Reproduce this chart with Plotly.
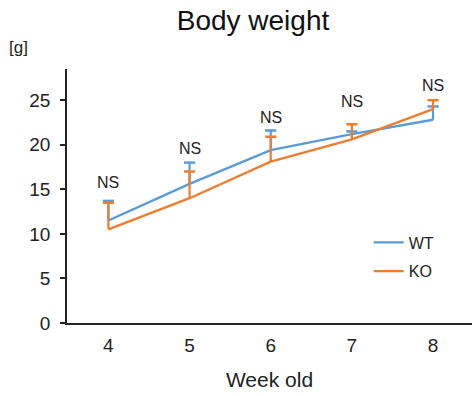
import plotly.graph_objects as go

weeks = [4, 5, 6, 7, 8]
wt_mean = [11.5, 15.6, 19.4, 21.2, 22.8]
wt_err = [2.2, 2.4, 2.2, 0.3, 1.5]
ko_mean = [10.5, 14.0, 18.1, 20.6, 24.0]
ko_err = [3.0, 3.0, 2.8, 1.7, 1.0]
sig_labels = ["NS", "NS", "NS", "NS", "NS"]
sig_y = [15.8, 19.6, 23.1, 24.9, 26.6]

WT_COLOR = "#5B9BD5"
KO_COLOR = "#ED7D31"
FONT = "Liberation Sans, Arial, sans-serif"

fig = go.Figure()
for name, mean, err, color in [("WT", wt_mean, wt_err, WT_COLOR),
                               ("KO", ko_mean, ko_err, KO_COLOR)]:
    # upper-only error bars: stem from the mean to mean + err, cap on top
    stem_x, stem_y = [], []
    for x, m, e in zip(weeks, mean, err):
        stem_x += [x, x, None]
        stem_y += [m, m + e, None]
    fig.add_trace(go.Scatter(
        x=stem_x, y=stem_y, mode="lines", showlegend=False, hoverinfo="skip",
        legendgroup=name, line=dict(color=color, width=2.2),
    ))
    fig.add_trace(go.Scatter(
        x=weeks, y=[m + e for m, e in zip(mean, err)], mode="markers",
        showlegend=False, hoverinfo="skip", legendgroup=name,
        marker=dict(symbol="line-ew", size=8, line=dict(color=color, width=2.5)),
    ))
    fig.add_trace(go.Scatter(
        x=weeks, y=mean, name=name, mode="lines", legendgroup=name,
        line=dict(color=color, width=2.4),
    ))

for x, y, t in zip(weeks, sig_y, sig_labels):
    fig.add_annotation(x=x, y=y, text=t, showarrow=False,
                       font=dict(size=16, color="#222222", family=FONT),
                       xanchor="center", yanchor="middle")

fig.add_annotation(xref="paper", yref="paper", x=-0.148, y=1.083, text="[g]",
                   showarrow=False, xanchor="left", yanchor="middle",
                   font=dict(size=17, color="#222222", family=FONT))

fig.update_layout(
    width=472, height=396,
    margin=dict(l=67, r=0, t=69, b=73),
    paper_bgcolor="white", plot_bgcolor="white",
    font=dict(family=FONT, color="#222222"),
    title=dict(text="Body weight", x=0.536, xanchor="center", y=0.95,
               yanchor="middle", font=dict(size=28, color="#111111", family=FONT)),
    showlegend=True,
    legend=dict(x=0.745, y=0.26, xanchor="left", yanchor="middle",
                bgcolor="rgba(0,0,0,0)", font=dict(size=16, family=FONT),
                tracegroupgap=5, traceorder="grouped"),
    xaxis=dict(range=[3.49, 8.48], tickvals=weeks, ticks="", showline=True,
               linecolor="#222222", linewidth=1.5, showgrid=False, zeroline=False,
               tickfont=dict(size=19, family=FONT, color="#222222"),
               ticklabelstandoff=4,
               title=dict(text="Week old", font=dict(size=21, family=FONT, color="#222222"),
                          standoff=18)),
    yaxis=dict(range=[0, 28.5], tickvals=[0, 5, 10, 15, 20, 25], ticks="outside",
               ticklen=5, tickwidth=1.5, tickcolor="#222222", showline=True,
               linecolor="#222222", linewidth=1.5, showgrid=False, zeroline=False,
               ticklabelstandoff=6,
               tickfont=dict(size=19, family=FONT, color="#222222")),
)

fig.write_html("out.html")
